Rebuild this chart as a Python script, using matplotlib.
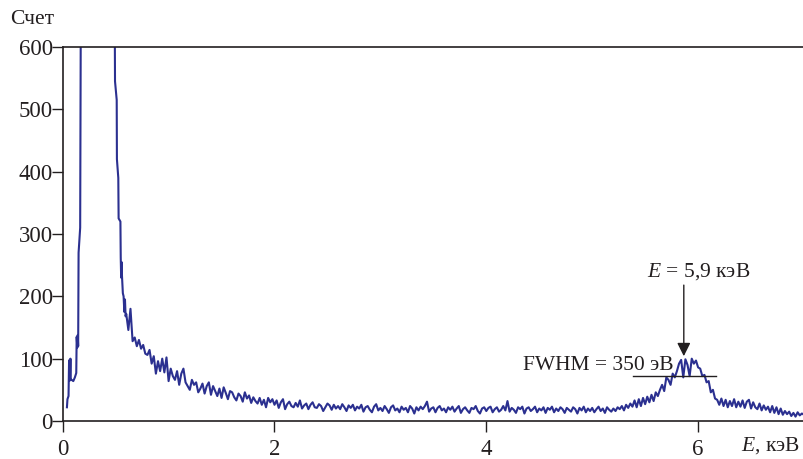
import numpy as np
import matplotlib
matplotlib.use("Agg")
import matplotlib.pyplot as plt

plt.rcParams['font.family'] = ['Liberation Serif', 'DejaVu Serif']
plt.rcParams['mathtext.fontset'] = 'custom'
plt.rcParams['mathtext.rm'] = 'Liberation Serif'
plt.rcParams['mathtext.it'] = 'Liberation Serif:italic'

# --- low-energy part (irregular channels, noise peak goes off scale) ---
energy_low = [0.040, 0.045, 0.055, 0.060, 0.064, 0.068, 0.073, 0.076, 0.085, 0.100,
              0.115, 0.128, 0.132, 0.138, 0.142, 0.146, 0.150, 0.165, 0.175, 0.250,
              0.400, 0.490, 0.494, 0.510, 0.512, 0.525, 0.528, 0.545, 0.548, 0.552,
              0.556, 0.560, 0.568, 0.575, 0.582, 0.588, 0.594]
counts_low = [22, 35, 40, 95, 98, 65, 100, 66, 66, 64,
              70, 77, 135, 118, 138, 120, 270, 310, 900, 3000,
              2000, 700, 545, 515, 420, 390, 325, 320, 262, 230,
              255, 232, 205, 200, 175, 195, 168]

# --- main part: channels every 0.02 keV from 0.60 to 7.00 keV ---
e_start = 0.60
e_step = 0.02
counts_main = [
    172, 146, 180, 128, 134, 120, 130, 116, 122, 108,   # 0.60
    106, 114, 92, 104, 76, 96, 80, 100, 78, 102,        # 0.80
    64, 84, 72, 66, 80, 58, 76, 84, 62, 56,             # 1.00
    50, 66, 58, 62, 46, 52, 60, 44, 56, 62,             # 1.20
    42, 56, 48, 40, 52, 37, 54, 45, 35, 48,             # 1.40
    46, 38, 33, 44, 40, 31, 46, 36, 41, 29,             # 1.60
    38, 32, 28, 37, 26, 34, 22, 37, 30, 35,             # 1.80
    26, 33, 21, 30, 35, 19, 27, 31, 24, 22,             # 2.00
    29, 23, 33, 20, 25, 28, 19, 26, 30, 22,             # 2.20
    21, 27, 24, 16, 22, 28, 25, 18, 26, 20,             # 2.40
    24, 19, 27, 22, 16, 25, 21, 26, 17, 23,             # 2.60
    20, 26, 15, 22, 24, 18, 14, 23, 27, 17,             # 2.80
    21, 16, 24, 19, 13, 22, 25, 17, 20, 14,             # 3.00
    23, 18, 21, 14, 24, 20, 12, 22, 17, 23,             # 3.20
    19, 24, 31, 15, 20, 22, 14, 21, 24, 17,             # 3.40
    20, 14, 22, 18, 23, 15, 20, 24, 13, 19,             # 3.60
    22, 17, 13, 21, 19, 24, 16, 12, 20, 22,             # 3.80
    16, 21, 23, 14, 19, 22, 15, 18, 24, 17,             # 4.00
    32, 15, 21, 18, 13, 22, 19, 23, 12, 20,             # 4.20
    22, 16, 19, 23, 14, 20, 17, 22, 13, 21,             # 4.40
    18, 23, 14, 20, 16, 22, 19, 13, 21, 18,             # 4.60
    15, 22, 19, 12, 21, 17, 23, 14, 20, 16,             # 4.80
    21, 14, 19, 23, 16, 20, 13, 22, 18, 15,             # 5.00
    20, 16, 22, 19, 24, 17, 26, 21, 28, 23,             # 5.20
    33, 22, 35, 24, 37, 27, 39, 30, 42, 32,             # 5.40
    46, 40, 50, 58, 48, 70, 66, 58, 76, 70,             # 5.60
    80, 92, 98, 70, 99, 90, 72, 100, 92, 97,            # 5.80
    86, 84, 72, 74, 62, 64, 46, 50, 36, 34,             # 6.00
    26, 36, 24, 34, 22, 32, 24, 35, 22, 31,             # 6.20
    23, 33, 21, 31, 34, 20, 30, 22, 19, 28,             # 6.40
    17, 25, 18, 23, 14, 24, 13, 22, 11, 20,             # 6.60
    10, 16, 11, 15, 8, 13, 7, 14, 9, 12,                # 6.80
    10,                                                 # 7.00
]
energy_main = e_start + e_step * np.arange(len(counts_main))

energy = np.concatenate([energy_low, energy_main])
counts = np.concatenate([counts_low, counts_main])

x_ticks = [0, 2, 4, 6]
y_ticks = [0, 100, 200, 300, 400, 500, 600]

peak_energy = 5.865
fwhm_lo, fwhm_hi, fwhm_level = 5.385, 6.17, 72

W, H = 804, 459
fig = plt.figure(figsize=(W / 100, H / 100), dpi=100)
ax = fig.add_axes([62.7 / W, 1 - 421 / H, (W - 62.7) / W, 374 / H])

ax.plot(energy, counts, color='#2b3090', lw=1.5)

ax.set_xlim(0, 7)
ax.set_ylim(0, 600)
ax.set_xticks(x_ticks)
ax.set_yticks(y_ticks)
ax.tick_params(axis='both', direction='out', length=8, width=1.0,
               color='#231f20', labelsize=16.5, labelcolor='#231f20')
ax.tick_params(axis='y', pad=-1)
ax.tick_params(axis='x', pad=5)
for s in ['left', 'bottom', 'top']:
    ax.spines[s].set_color('#231f20')
    ax.spines[s].set_linewidth(1.2)
ax.spines['right'].set_visible(False)

# FWHM bar
ax.plot([fwhm_lo, fwhm_hi], [fwhm_level, fwhm_level], color='#231f20', lw=1.0)
ax.text(5.765, 82, 'FWHM = 350 эВ', ha='right', va='baseline',
        fontsize=15.5, color='#231f20')

# arrow and label
ax.annotate('', xy=(peak_energy, 104), xytext=(peak_energy, 218),
            arrowprops=dict(arrowstyle='-|>', color='#231f20', lw=1.0,
                            mutation_scale=20, shrinkA=0, shrinkB=0))
ax.text(6.01, 231.6, '$E$ = 5,9 кэВ', ha='center', va='baseline',
        fontsize=15.5, color='#231f20')

fig.text(10 / W, 1 - 20 / H, 'Счет', ha='left', va='center',
         fontsize=15.5, color='#231f20')
fig.text(800 / W, 1 - 446 / H, '$E$, кэВ', ha='right', va='center',
         fontsize=15.5, color='#231f20')

fig.savefig('out.png', dpi=100)
